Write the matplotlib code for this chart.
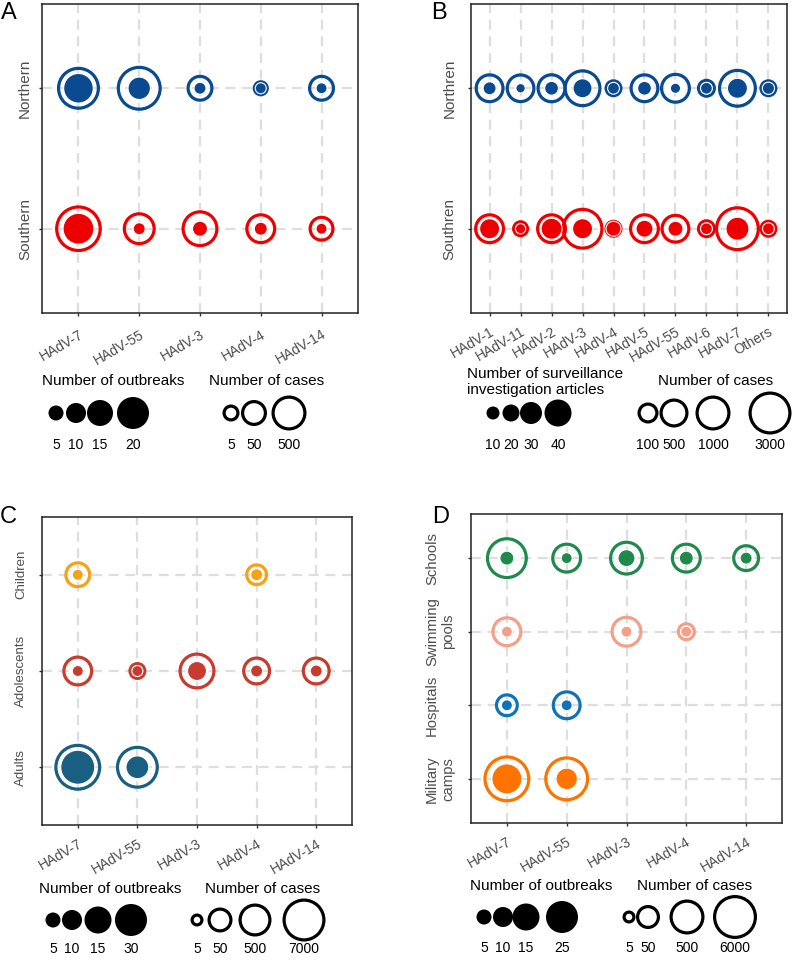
import numpy as np
import matplotlib
matplotlib.use("Agg")
import matplotlib.pyplot as plt
from matplotlib.transforms import ScaledTranslation

plt.rcParams['font.family'] = ['Liberation Sans', 'DejaVu Sans']

# ---------------- data ----------------
nan = np.nan
A_genotypes = ["HAdV-7", "HAdV-55", "HAdV-3", "HAdV-4", "HAdV-14"]
A_regions = ["Southern", "Northern"]
A_outbreaks = {"Northern": [18, 12, 2, 1, 1],
               "Southern": [19, 2, 5, 3, 1]}
A_cases = {"Northern": [3900, 6500, 65, 4, 65],
           "Southern": [10000, 300, 830, 180, 50]}
A_outbreak_breaks = [5, 10, 15, 20]
A_case_breaks = [5, 50, 500]

B_genotypes = ["HAdV-1", "HAdV-11", "HAdV-2", "HAdV-3", "HAdV-4",
               "HAdV-5", "HAdV-55", "HAdV-6", "HAdV-7", "Others"]
B_regions = ["Southren", "Northren"]
B_articles = {"Northren": [10, 1, 12, 24, 7, 12, 3, 7, 26, 8],
              "Southren": [26, 3, 28, 26, 15, 20, 15, 7, 32, 7]}
B_cases = {"Northren": [560, 550, 570, 1510, 55, 560, 630, 67, 1730, 55],
           "Southren": [630, 45, 630, 2610, 55, 630, 560, 67, 3950, 55]}
B_article_breaks = [10, 20, 30, 40]
B_case_breaks = [100, 500, 1000, 3000]

C_genotypes = ["HAdV-7", "HAdV-55", "HAdV-3", "HAdV-4", "HAdV-14"]
C_groups = ["Adults", "Adolescents", "Children"]
C_outbreaks = {"Children": [1, nan, nan, 2, nan],
               "Adolescents": [1, 1, 9, 2, 2],
               "Adults": [36, 12, nan, nan, nan]}
C_cases = {"Children": [89, nan, nan, 34, nan],
           "Adolescents": [280, 13, 1440, 160, 160],
           "Adults": [20000, 7000, nan, nan, nan]}
C_outbreak_breaks = [5, 10, 15, 30]
C_case_breaks = [5, 50, 500, 7000]

D_genotypes = ["HAdV-7", "HAdV-55", "HAdV-3", "HAdV-4", "HAdV-14"]
D_settings = ["Military\ncamps", "Hospitals", "Swimming\npools", "Schools"]
D_outbreaks = {"Schools": [4, 1, 7, 4, 2],
               "Swimming\npools": [1, nan, 1, 1, nan],
               "Hospitals": [1, 1, nan, nan, nan],
               "Military\ncamps": [21, 11, nan, nan, nan]}
D_cases = {"Schools": [3450, 220, 500, 220, 116],
           "Swimming\npools": [220, nan, 270, 18, nan],
           "Hospitals": [50, 176, nan, nan, nan],
           "Military\ncamps": [13700, 8000, nan, nan, nan]}
D_outbreak_breaks = [5, 10, 15, 25]
D_case_breaks = [5, 50, 500, 6000]

# ---------------- styles ----------------
W, H = 794, 960
PX = 0.72  # points per pixel at dpi 100
RING_LW = 3.2  # px

colA = {"Northern": "#0A4A90", "Southern": "#EE0000"}
colB = {"Northren": "#0A4A90", "Southren": "#EE0000"}
colC = {"Children": "#F5A314", "Adolescents": "#C93A2F", "Adults": "#1A5E82"}
colD = {"Schools": "#1F8A4C", "Swimming\npools": "#F2A08A",
        "Hospitals": "#0F73B7", "Military\ncamps": "#FF7400"}

# size scale ranges (diameters in px for the legend breaks)
A_out_d, A_case_d = [15, 20, 26, 32], [17, 26, 35]
B_out_d, B_case_d = [13, 17, 22, 27], [21, 29, 35, 43]
C_out_d, C_case_d = [15, 20, 27, 32], [13, 25, 33, 43]
D_out_d, D_case_d = [15, 20, 27, 32], [13, 24, 35, 44]


def make_scale(breaks, diams, log):
    x = np.log10(np.asarray(breaks, float)) if log else np.asarray(breaks, float)
    d = np.asarray(diams, float)

    def f(v):
        v = np.asarray(v, float)
        t = np.log10(v) if log else v
        out = np.interp(t, x, d)
        lo = d[0] + (t - x[0]) * (d[1] - d[0]) / (x[1] - x[0])
        hi = d[-1] + (t - x[-1]) * (d[-1] - d[-2]) / (x[-1] - x[-2])
        out = np.where(t < x[0], lo, out)
        out = np.where(t > x[-1], hi, out)
        return out
    return f


def rect(l, t, r, b):
    return [l / W, 1 - b / H, (r - l) / W, (b - t) / H]


fig = plt.figure(figsize=(W / 100, H / 100), dpi=100)


def draw_panel(box, xcats, ycats, inner, outer, colors, fin, fout,
               ylab_size, ylab_pad, xpad, ylab_ha='right'):
    ax = fig.add_axes(rect(*box))
    nx, ny = len(xcats), len(ycats)
    for j, yc in enumerate(ycats):
        xs = np.arange(1, nx + 1)
        ys = np.full(nx, j + 1.0)
        ov = np.asarray(outer[yc], float)
        iv = np.asarray(inner[yc], float)
        m = ~np.isnan(ov)
        dout = fout(ov[m])
        ax.scatter(xs[m], ys[m], s=((dout - RING_LW) * PX) ** 2,
                   facecolors='none', edgecolors=colors[yc],
                   linewidths=RING_LW * PX, zorder=3)
        m2 = ~np.isnan(iv)
        din = fin(iv[m2])
        ax.scatter(xs[m2], ys[m2], s=(din * PX) ** 2, c=colors[yc],
                   edgecolors='white', linewidths=0.8, zorder=4)
    ax.set_xlim(0.4, nx + 0.6)
    ax.set_ylim(0.4, ny + 0.6)
    ax.set_xticks(np.arange(1, nx + 1))
    ax.set_xticklabels(xcats, rotation=30, ha='right', va='top',
                       rotation_mode='anchor', fontsize=10, color='#4D4D4D')
    shift = ScaledTranslation(4 / 100, 0, fig.dpi_scale_trans)
    for lab in ax.get_xticklabels():
        lab.set_transform(lab.get_transform() + shift)
    ax.set_yticks(np.arange(1, ny + 1))
    ax.set_yticklabels(ycats, rotation=90, va='center', ha=ylab_ha,
                       fontsize=ylab_size, color='#4D4D4D',
                       multialignment='center')
    ax.tick_params(axis='y', length=2.2, width=1.0, color='#333333', pad=ylab_pad)
    ax.tick_params(axis='x', length=2.2, width=1.0, color='#333333', pad=xpad)
    ax.set_axisbelow(True)
    ax.grid(True, color='#DEDEDE', lw=1.6, linestyle=(0, (4.5, 3)))
    for s in ax.spines.values():
        s.set_linewidth(1.1)
        s.set_color('#222222')
    return ax


fA_in = make_scale(A_outbreak_breaks, A_out_d, False)
fA_out = make_scale(A_case_breaks, A_case_d, True)
fB_in = make_scale(B_article_breaks, B_out_d, False)
fB_out = make_scale(B_case_breaks, B_case_d, True)
fC_in = make_scale(C_outbreak_breaks, C_out_d, False)
fC_out = make_scale(C_case_breaks, C_case_d, True)
fD_in = make_scale(D_outbreak_breaks, D_out_d, False)
fD_out = make_scale(D_case_breaks, D_case_d, True)

draw_panel((42, 4, 358, 313), A_genotypes, A_regions, A_outbreaks, A_cases,
           colA, fA_in, fA_out, 11, 5, 8)
draw_panel((471, 4, 787, 313), B_genotypes, B_regions, B_articles, B_cases,
           colB, fB_in, fB_out, 11, 8, 6)
draw_panel((42, 517, 352, 825), C_genotypes, C_groups, C_outbreaks, C_cases,
           colC, fC_in, fC_out, 9.5, 8.5, 6)
draw_panel((471, 514, 782, 823), D_genotypes, D_settings, D_outbreaks, D_cases,
           colD, fD_in, fD_out, 10.7, 31, 6, ylab_ha='left')

# panel letters
for letter, x, y in [("A", 1, 2), ("B", 431, 2), ("C", 0, 506), ("D", 432, 506)]:
    fig.text(x / W, 1 - y / H, letter, fontsize=17, ha='left', va='top')

# ---------------- legends ----------------
lax = fig.add_axes([0, 0, 1, 1])
lax.set_xlim(0, W)
lax.set_ylim(H, 0)
lax.axis('off')


def legend(title, tx, ty, breaks, xs, cy, ly, f, filled):
    lax.text(tx, ty, title, fontsize=11, ha='left', va='center',
             linespacing=1.15)
    d = f(np.asarray(breaks, float))
    if filled:
        lax.scatter(xs, [cy] * len(xs), s=(d * PX) ** 2, c='black',
                    edgecolors='none')
    else:
        lax.scatter(xs, [cy] * len(xs), s=((d - RING_LW) * PX) ** 2,
                    facecolors='none', edgecolors='black',
                    linewidths=RING_LW * PX)
    for x, b in zip(xs, breaks):
        lax.text(x, ly, str(b), fontsize=10, ha='center', va='center')


legend("Number of outbreaks", 42, 381, A_outbreak_breaks, [56, 76, 100, 133],
       413, 445, fA_in, True)
legend("Number of cases", 209, 381, A_case_breaks, [231, 254, 289],
       413, 445, fA_out, False)
legend("Number of surveillance\ninvestigation articles", 467, 382,
       B_article_breaks, [493, 511, 531, 558], 413, 445, fB_in, True)
legend("Number of cases", 658, 381, B_case_breaks, [648, 674, 713, 770],
       413, 445, fB_out, False)
legend("Number of outbreaks", 39, 889, C_outbreak_breaks, [53, 72, 98, 131],
       920, 949, fC_in, True)
legend("Number of cases", 205, 889, C_case_breaks, [197, 220, 255, 304],
       920, 949, fC_out, False)
legend("Number of outbreaks", 470, 886, D_outbreak_breaks, [484, 503, 526, 562],
       917, 948, fD_in, True)
legend("Number of cases", 637, 886, D_case_breaks, [629, 648, 687, 735],
       917, 948, fD_out, False)

fig.savefig("out.png", dpi=100)
